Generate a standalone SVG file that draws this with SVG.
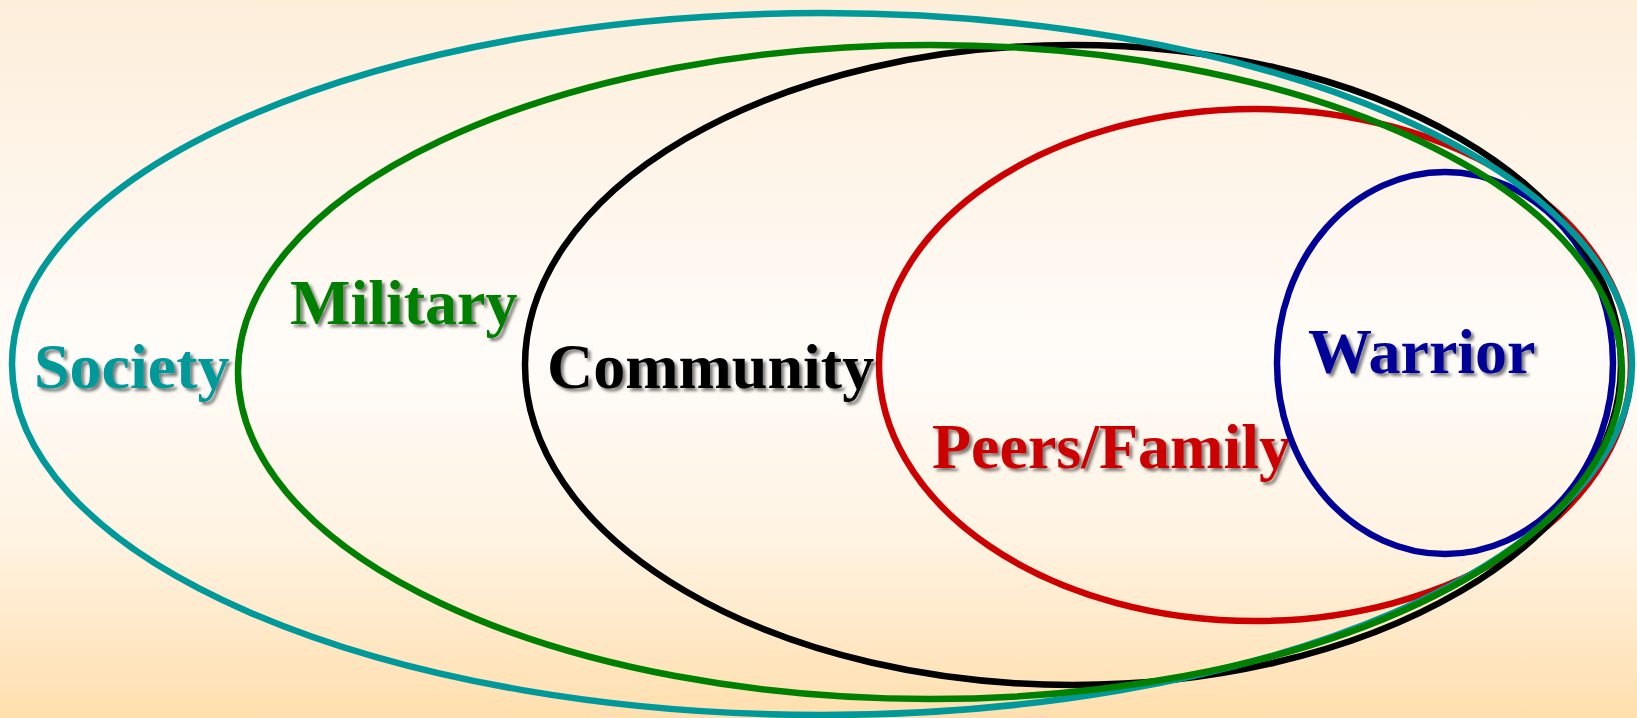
<svg xmlns="http://www.w3.org/2000/svg" width="1637" height="718" viewBox="0 0 1637 718">
  <defs>
    <linearGradient id="bg" x1="0" y1="0" x2="0" y2="1">
      <stop offset="0" stop-color="#FDEEDA"/>
      <stop offset="0.5" stop-color="#FFFCF9"/>
      <stop offset="0.75" stop-color="#FFF3E2"/>
      <stop offset="1" stop-color="#FFDFAE"/>
    </linearGradient>
    <filter id="shadow" x="-10%" y="-20%" width="130%" height="150%">
      <feDropShadow dx="3" dy="3" stdDeviation="1.6" flood-color="#000000" flood-opacity="0.5"/>
    </filter>
  </defs>
  <style>
    .ring { fill: none; stroke-width: 6.5; }
    .label { font-family: "Liberation Serif", "Times New Roman", serif; font-weight: bold; font-size: 64px; filter: url(#shadow); }
  </style>

  <rect x="0" y="0" width="1637" height="718" fill="url(#bg)"/>

  <!-- nested spheres, innermost first so the outer rings cross over them -->
  <g id="peers-family">
    <ellipse class="ring" cx="1255" cy="365" rx="376" ry="256" stroke="#CC0000"/>
    <text class="label" x="932" y="468" fill="#CC0000">Peers/Family</text>
  </g>
  <g id="warrior">
    <ellipse class="ring" cx="1445" cy="363" rx="168" ry="191" stroke="#000099"/>
    <text class="label" x="1308" y="373" fill="#000099">Warrior</text>
  </g>
  <g id="community">
    <ellipse class="ring" cx="1073" cy="365" rx="548" ry="320" stroke="#000000"/>
    <text class="label" x="547" y="388" fill="#000000">Community</text>
  </g>
  <g id="society">
    <ellipse class="ring" cx="822" cy="364" rx="810" ry="351" stroke="#009999"/>
    <text class="label" x="34" y="388" fill="#009999">Society</text>
  </g>
  <g id="military">
    <ellipse class="ring" cx="930" cy="372" rx="692" ry="327" stroke="#008000"/>
    <text class="label" x="290" y="324" fill="#008000">Military</text>
  </g>

  <g id="connectors"/>
</svg>
